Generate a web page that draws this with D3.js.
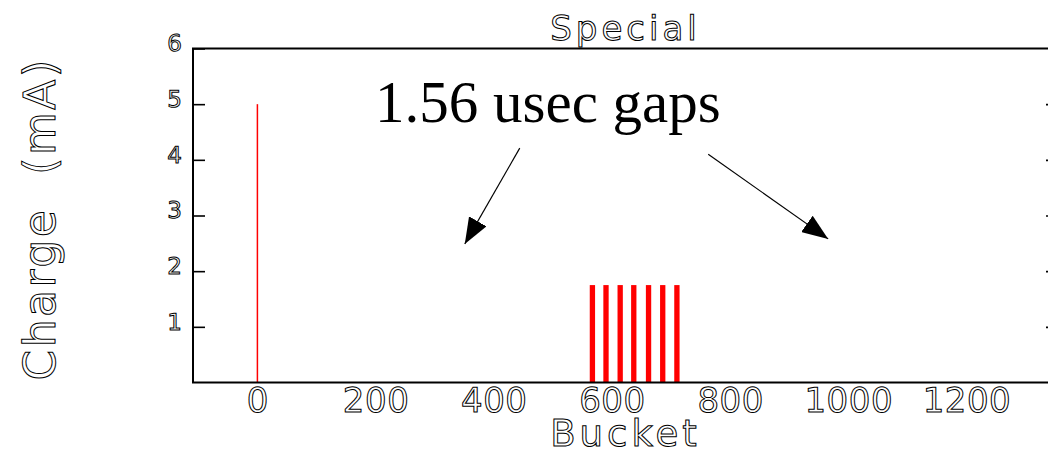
<!DOCTYPE html>
<html>
<head>
<meta charset="utf-8">
<script src="https://cdn.jsdelivr.net/npm/d3@7"></script>
<style>
  body { margin: 0; background: #fff; }
  svg { display: block; }
  .hershey { font-family: "DejaVu Sans", sans-serif; fill: none; stroke: #000; stroke-width: 1px; text-rendering: geometricPrecision; }
</style>
</head>
<body>
<div id="chart"></div>
<script>
// bucket fill pattern
const buckets = [0, 567, 590, 614, 637, 662, 686, 710];
const charge = [5.0, 1.75, 1.75, 1.75, 1.75, 1.75, 1.75, 1.75];
const trainLength = [1, 9, 9, 9, 9, 9, 9, 9];

const xTicks = [0, 200, 400, 600, 800, 1000, 1200];
const yTicks = [1, 2, 3, 4, 5, 6];

// annotation arrows, in data units (bucket, mA)
const arrowFrom = [[444, 4.21], [763, 4.10]];
const arrowTo = [[351, 2.49], [966, 2.58]];

function drawChart() {
    const width = 1048;
    const height = 455;
    const left = 193, right = 1058, top = 48.5, bottom = 382.5;

    const svg = d3.select("#chart")
        .append("svg")
        .attr("width", width)
        .attr("height", height);

    const x = d3.scaleLinear()
        .domain([-109, 1355])
        .range([left, right]);

    const y = d3.scaleLinear()
        .domain([0, 6])
        .range([bottom, top]);

    // bars
    const barWidth = i => Math.max(1.5, x(trainLength[i]) - x(0));
    svg.selectAll(".bar")
        .data(buckets)
        .enter()
        .append("rect")
        .attr("class", "bar")
        .attr("x", (d, i) => x(d) - barWidth(i) / 2)
        .attr("y", (d, i) => y(charge[i]))
        .attr("width", (d, i) => barWidth(i))
        .attr("height", (d, i) => y(0) - y(charge[i]))
        .attr("fill", "#ff0000");

    // left axis, ticks inward
    const yAxis = svg.append("g")
        .attr("transform", `translate(${left},0)`)
        .call(d3.axisLeft(y).tickValues(yTicks).tickSize(-12).tickPadding(11).tickFormat(d3.format("d")));
    yAxis.select(".domain").remove();
    yAxis.selectAll("line").attr("stroke", "#000").attr("stroke-width", 1.6);
    yAxis.selectAll("text")
        .attr("class", "hershey")
        .attr("dy", "0.1em")
        .style("font-size", "23px");

    // right axis, ticks inward, no labels
    const rAxis = svg.append("g")
        .attr("transform", `translate(${right},0)`)
        .call(d3.axisRight(y).tickValues(yTicks.slice(0, 5)).tickSize(-12).tickFormat(""));
    rAxis.select(".domain").remove();
    rAxis.selectAll("line").attr("stroke", "#000").attr("stroke-width", 1.6);

    // bottom axis, labels only
    const xAxis = svg.append("g")
        .attr("transform", `translate(0,${bottom})`)
        .call(d3.axisBottom(x).tickValues(xTicks).tickSize(0).tickPadding(5).tickFormat(d3.format("d")));
    xAxis.select(".domain").remove();
    xAxis.selectAll("text")
        .attr("class", "hershey")
        .style("font-size", "34px")
        .style("letter-spacing", "0.5px");

    // frame
    svg.append("rect")
        .attr("x", left)
        .attr("y", top)
        .attr("width", right - left)
        .attr("height", bottom - top)
        .attr("fill", "none")
        .attr("stroke", "#000")
        .attr("stroke-width", 2);

    // titles
    svg.append("text")
        .attr("class", "hershey")
        .attr("x", (left + right) / 2)
        .attr("y", 40)
        .attr("text-anchor", "middle")
        .style("font-size", "34px")
        .style("letter-spacing", "4px")
        .text("Special");

    svg.append("text")
        .attr("class", "hershey")
        .attr("x", (left + right) / 2)
        .attr("y", 446)
        .attr("text-anchor", "middle")
        .style("font-size", "37px")
        .style("letter-spacing", "4px")
        .text("Bucket");

    svg.append("text")
        .attr("class", "hershey")
        .attr("transform", "translate(55,219) rotate(-90)")
        .attr("text-anchor", "middle")
        .style("font-size", "44px")
        .style("letter-spacing", "2.5px")
        .style("white-space", "pre")
        .text("Charge  (mA)");

    // annotation
    svg.append("text")
        .attr("x", 375)
        .attr("y", 122)
        .style("font-family", "'Liberation Serif', 'Times New Roman', serif")
        .style("font-size", "59px")
        .attr("fill", "#000")
        .text("1.56 usec gaps");

    svg.append("defs").append("marker")
        .attr("id", "head")
        .attr("viewBox", "0 0 26 20")
        .attr("refX", 26)
        .attr("refY", 10)
        .attr("markerWidth", 26)
        .attr("markerHeight", 20)
        .attr("markerUnits", "userSpaceOnUse")
        .attr("orient", "auto")
        .append("path")
        .attr("d", "M0,0 L26,10 L0,20 Z")
        .attr("fill", "#000");

    svg.selectAll(".arrow")
        .data(arrowFrom)
        .enter()
        .append("line")
        .attr("class", "arrow")
        .attr("x1", d => x(d[0]))
        .attr("y1", d => y(d[1]))
        .attr("x2", (d, i) => x(arrowTo[i][0]))
        .attr("y2", (d, i) => y(arrowTo[i][1]))
        .attr("stroke", "#000")
        .attr("stroke-width", 1.2)
        .attr("marker-end", "url(#head)");
}

drawChart();
</script>
</body>
</html>
